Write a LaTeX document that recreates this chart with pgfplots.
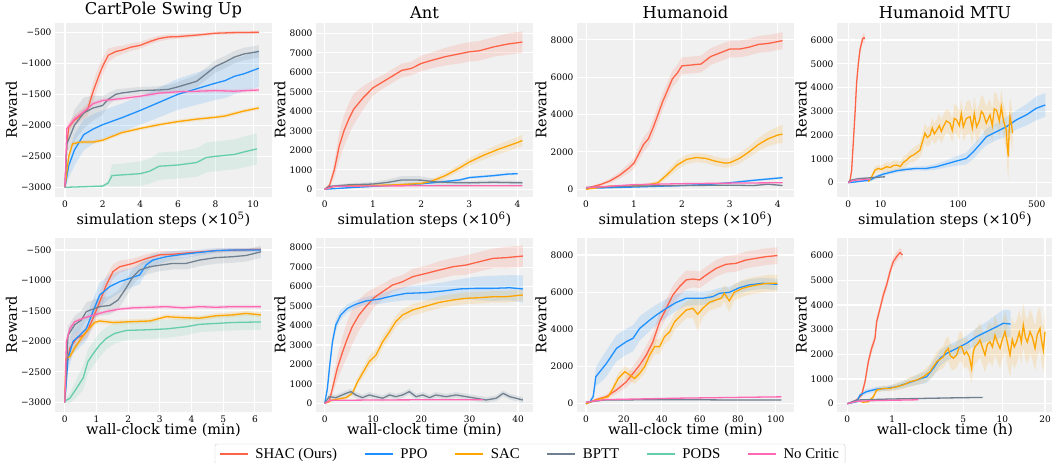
\documentclass[border=0pt]{standalone}
\usepackage{pgfplots}
\pgfplotsset{compat=1.18}
\usepackage{pgfplotstable}
\usepgfplotslibrary{fillbetween}
\usepackage{fontspec}
\setmainfont{DejaVu Serif}
\newfontfamily\legfont{Liberation Serif}

\definecolor{bg}{RGB}{240,240,240}
\definecolor{shac}{RGB}{255,99,71}
\definecolor{ppo}{RGB}{30,144,255}
\definecolor{sac}{RGB}{255,165,0}
\definecolor{bptt}{RGB}{112,128,144}
\definecolor{pods}{RGB}{102,205,170}
\definecolor{nocr}{RGB}{255,105,180}

% columns: x, mean m, half width of the shaded band e
% CartPole, simulation steps (x 1e5)
\pgfplotstableread[row sep=\\]{x m e\\ 0 -3000 0\\ 0.1 -2300 80\\ 0.2 -2030 70\\ 0.5 -1920 80\\ 1.0 -1800 90\\ 1.2 -1750 100\\ 1.5 -1450 150\\ 1.8 -1200 150\\ 2.0 -1050 140\\ 2.3 -870 110\\ 2.7 -810 80\\ 3.0 -790 70\\ 3.5 -740 60\\ 4.0 -710 55\\ 4.5 -650 50\\ 5.0 -600 45\\ 5.5 -575 40\\ 6.0 -570 35\\ 7.0 -545 30\\ 8.0 -515 25\\ 9.0 -505 25\\ 10.3 -500 25\\}\csShac
\pgfplotstableread[row sep=\\]{x m e\\ 0 -3000 0\\ 0.2 -2650 200\\ 0.5 -2400 250\\ 0.8 -2250 250\\ 1.0 -2150 250\\ 1.5 -2060 240\\ 2.0 -1990 230\\ 3.0 -1880 230\\ 4.0 -1760 230\\ 5.0 -1630 240\\ 6.0 -1500 250\\ 7.0 -1410 260\\ 8.0 -1320 270\\ 8.5 -1280 280\\ 9.0 -1210 290\\ 9.5 -1170 290\\ 10.3 -1080 300\\}\csPpo
\pgfplotstableread[row sep=\\]{x m e\\ 0 -3000 0\\ 0.2 -2500 60\\ 0.4 -2300 40\\ 0.8 -2270 30\\ 1.5 -2270 30\\ 2.0 -2240 30\\ 2.5 -2180 30\\ 3.0 -2120 30\\ 4.0 -2050 30\\ 5.0 -1990 30\\ 6.0 -1940 30\\ 7.0 -1900 30\\ 8.0 -1870 30\\ 8.5 -1850 30\\ 9.0 -1810 30\\ 9.5 -1770 30\\ 10.3 -1720 30\\}\csSac
\pgfplotstableread[row sep=\\]{x m e\\ 0 -3000 0\\ 0.1 -2300 120\\ 0.3 -2150 200\\ 0.5 -2000 250\\ 1.0 -1800 250\\ 1.5 -1720 200\\ 2.0 -1680 150\\ 2.3 -1580 100\\ 2.7 -1500 80\\ 3.0 -1480 70\\ 4.0 -1440 60\\ 5.0 -1430 60\\ 5.5 -1420 70\\ 6.0 -1380 80\\ 7.0 -1290 100\\ 7.5 -1170 100\\ 8.0 -1050 100\\ 8.5 -980 100\\ 9.0 -900 100\\ 9.5 -850 100\\ 10.3 -810 100\\}\csBptt
\pgfplotstableread[row sep=\\]{x m e\\ 0 -3000 0\\ 1.0 -2990 10\\ 2.0 -2980 20\\ 2.3 -2930 40\\ 2.5 -2810 180\\ 3.0 -2800 180\\ 4.0 -2780 200\\ 4.5 -2740 200\\ 5.0 -2660 220\\ 6.0 -2640 220\\ 7.0 -2600 230\\ 7.5 -2520 240\\ 8.0 -2500 240\\ 9.0 -2470 240\\ 9.5 -2430 250\\ 10.2 -2380 250\\}\csPods
\pgfplotstableread[row sep=\\]{x m e\\ 0 -3000 0\\ 0.1 -2050 60\\ 0.3 -1980 50\\ 0.5 -1900 50\\ 1.0 -1780 40\\ 1.5 -1650 40\\ 2.0 -1600 35\\ 3.0 -1570 30\\ 4.0 -1530 30\\ 5.0 -1480 30\\ 6.0 -1460 30\\ 7.0 -1450 30\\ 8.0 -1440 30\\ 9.0 -1450 30\\ 10.3 -1430 30\\}\csNocr

% Ant, simulation steps (x 1e6)
\pgfplotstableread[row sep=\\]{x m e\\ 0 0 0\\ 0.1 200 100\\ 0.2 1000 400\\ 0.3 2200 700\\ 0.4 3000 800\\ 0.5 3600 800\\ 0.6 4100 800\\ 0.8 4700 600\\ 1.0 5200 400\\ 1.2 5500 350\\ 1.4 5800 350\\ 1.6 6100 350\\ 1.8 6200 350\\ 2.0 6450 400\\ 2.2 6600 400\\ 2.5 6800 450\\ 2.8 6950 500\\ 3.0 7050 500\\ 3.2 7100 500\\ 3.5 7300 500\\ 3.8 7450 550\\ 4.1 7550 550\\}\asShac
\pgfplotstableread[row sep=\\]{x m e\\ 0 0 0\\ 0.5 80 30\\ 1.0 150 30\\ 1.5 220 40\\ 2.0 280 40\\ 2.5 400 50\\ 2.8 480 50\\ 3.0 600 60\\ 3.5 700 60\\ 3.8 780 60\\ 4.0 800 60\\}\asPpo
\pgfplotstableread[row sep=\\]{x m e\\ 0 0 0\\ 0.2 150 50\\ 0.5 180 50\\ 1.0 200 50\\ 1.5 230 60\\ 2.0 300 80\\ 2.2 400 100\\ 2.5 700 150\\ 2.8 1100 180\\ 3.0 1400 200\\ 3.3 1750 220\\ 3.6 2050 250\\ 4.0 2400 280\\ 4.1 2500 300\\}\asSac
\pgfplotstableread[row sep=\\]{x m e\\ 0 0 0\\ 0.1 150 50\\ 0.5 230 80\\ 1.0 270 100\\ 1.3 350 150\\ 1.6 480 200\\ 2.0 470 200\\ 2.3 380 150\\ 2.7 340 120\\ 3.0 330 100\\ 3.5 360 100\\ 4.1 330 100\\}\asBptt
\pgfplotstableread[row sep=\\]{x m e\\ 0 0 0\\ 0.2 150 20\\ 1.0 170 20\\ 2.0 180 20\\ 3.0 180 20\\ 4.1 180 20\\}\asNocr

% Humanoid, simulation steps (x 1e6)
\pgfplotstableread[row sep=\\]{x m e\\ 0 0 0\\ 0.1 120 50\\ 0.3 250 80\\ 0.5 450 120\\ 0.7 750 180\\ 0.9 1150 250\\ 1.0 1400 300\\ 1.1 1900 350\\ 1.2 2400 400\\ 1.3 2700 400\\ 1.4 3300 450\\ 1.5 4000 450\\ 1.6 4700 450\\ 1.7 5300 450\\ 1.8 5900 450\\ 1.9 6200 450\\ 2.0 6600 450\\ 2.2 6650 450\\ 2.4 6700 450\\ 2.6 7100 450\\ 2.8 7300 450\\ 3.0 7500 450\\ 3.2 7500 450\\ 3.4 7600 450\\ 3.6 7750 450\\ 3.8 7800 450\\ 4.1 7950 450\\}\hsShac
\pgfplotstableread[row sep=\\]{x m e\\ 0 50 20\\ 1.0 120 30\\ 2.0 200 40\\ 2.5 250 40\\ 3.0 350 50\\ 3.5 480 60\\ 4.1 620 60\\}\hsPpo
\pgfplotstableread[row sep=\\]{x m e\\ 0 0 0\\ 0.5 170 40\\ 1.0 170 50\\ 1.3 250 80\\ 1.5 350 100\\ 1.7 800 200\\ 1.9 1300 250\\ 2.1 1600 250\\ 2.3 1700 250\\ 2.5 1650 250\\ 2.7 1500 250\\ 2.9 1400 250\\ 3.0 1420 250\\ 3.2 1650 280\\ 3.4 2000 300\\ 3.6 2400 350\\ 3.8 2700 400\\ 4.0 2900 450\\ 4.1 2950 500\\}\hsSac
\pgfplotstableread[row sep=\\]{x m e\\ 0 100 30\\ 1.0 170 30\\ 2.0 200 40\\ 3.0 220 40\\ 3.5 200 40\\ 3.8 270 40\\ 4.1 200 40\\}\hsBptt
\pgfplotstableread[row sep=\\]{x m e\\ 0 80 20\\ 1.0 250 20\\ 2.0 300 20\\ 3.0 330 20\\ 4.1 350 20\\}\hsNocr

% Humanoid MTU, simulation steps: x is the position on the stretched axis
\pgfplotstableread[row sep=\\]{x m e\\ 0 0 0\\ 1.7 100 50\\ 3.3 500 100\\ 5 1700 150\\ 6.7 2900 200\\ 8.3 4200 200\\ 10 5000 200\\ 11.7 5600 200\\ 14.3 6050 200\\ 15.7 6100 200\\ 16.3 6050 200\\}\msShac
\pgfplotstableread[row sep=\\]{x m e\\ 0 0 0\\ 8.3 40 30\\ 21.7 110 60\\ 28 250 80\\ 35 360 80\\ 48 500 80\\ 58 560 80\\ 68 600 80\\ 78 600 100\\ 88 670 120\\ 98 790 150\\ 108 910 200\\ 118 1020 250\\ 125 1300 300\\ 132 1630 300\\ 138 1930 350\\ 148 2140 350\\ 158 2350 400\\ 168 2640 400\\ 178 2850 450\\ 188 3130 500\\ 197 3270 500\\}\msPpo
\pgfplotstableread[row sep=\\]{x m e\\ 20 40 30\\ 23.3 250 80\\ 26.7 530 150\\ 30 600 150\\ 33 560 150\\ 38.3 670 200\\ 42 640 200\\ 45 720 200\\ 48.3 740 200\\ 52 680 200\\ 55 850 250\\ 58.3 950 250\\ 62 1100 250\\ 65 1160 300\\ 68 1250 300\\ 71.7 1370 300\\ 74 1700 400\\ 76.7 2080 400\\ 79 1900 400\\ 81.7 2000 400\\ 84 2300 450\\ 86 2050 450\\ 88.3 2200 450\\ 91 2400 500\\ 93 2150 500\\ 95 2350 500\\ 98 2600 500\\ 101.7 2500 500\\ 104 2200 500\\ 106 2700 600\\ 108.3 2640 600\\ 111 2400 600\\ 113 2900 600\\ 115 2350 600\\ 118 2700 700\\ 121.7 2780 700\\ 124 2300 700\\ 126 2900 700\\ 128.3 2350 700\\ 131 2600 700\\ 133 3000 700\\ 135 2900 700\\ 138 2500 700\\ 141.7 2850 700\\ 144 2400 700\\ 146 3100 700\\ 148.3 3050 700\\ 151 2600 700\\ 153 3200 700\\ 155 2640 700\\ 158 2200 800\\ 159 1500 900\\ 160 1100 1000\\ 161 2400 900\\ 161.7 2780 800\\ 163 2500 800\\ 164.3 2080 800\\}\msSac
\pgfplotstableread[row sep=\\]{x m e\\ 0 0 0\\ 2 100 20\\ 10 170 30\\ 20 200 30\\ 36.7 250 30\\}\msBptt
\pgfplotstableread[row sep=\\]{x m e\\ 0 0 0\\ 5 100 20\\ 21.7 150 20\\}\msNocr

% CartPole, wall-clock time (min)
\pgfplotstableread[row sep=\\]{x m e\\ 0 -3000 0\\ 0.05 -2390 100\\ 0.16 -2110 100\\ 0.37 -1950 100\\ 0.58 -1900 100\\ 0.73 -1810 120\\ 0.89 -1620 150\\ 1.1 -1350 150\\ 1.31 -1075 150\\ 1.52 -855 120\\ 1.73 -775 100\\ 2.15 -720 80\\ 2.57 -640 70\\ 2.99 -580 60\\ 3.41 -570 50\\ 4.04 -540 40\\ 4.77 -510 30\\ 5.51 -500 30\\ 6.19 -490 30\\}\cwShac
\pgfplotstableread[row sep=\\]{x m e\\ 0 -3000 0\\ 0.1 -2280 200\\ 0.26 -2000 200\\ 0.47 -1900 200\\ 0.68 -1790 200\\ 0.89 -1510 200\\ 1.1 -1240 200\\ 1.42 -1100 200\\ 1.73 -1020 180\\ 2.05 -965 160\\ 2.36 -910 150\\ 2.57 -745 120\\ 2.78 -665 100\\ 3.2 -610 80\\ 3.73 -570 70\\ 4.25 -540 50\\ 4.77 -510 40\\ 5.3 -500 30\\ 6.19 -500 30\\}\cwPpo
\pgfplotstableread[row sep=\\]{x m e\\ 0 -3000 0\\ 0.03 -2280 60\\ 0.16 -2250 60\\ 0.31 -2110 60\\ 0.52 -1950 60\\ 0.73 -1810 50\\ 0.94 -1690 50\\ 1.1 -1665 40\\ 1.52 -1690 40\\ 2.15 -1675 40\\ 2.68 -1665 40\\ 3.2 -1595 40\\ 3.73 -1610 40\\ 4.25 -1620 40\\ 4.77 -1580 40\\ 5.3 -1565 40\\ 5.72 -1540 40\\ 6.19 -1565 40\\}\cwSac
\pgfplotstableread[row sep=\\]{x m e\\ 0 -3000 0\\ 0.1 -1900 150\\ 0.31 -1730 150\\ 0.52 -1650 150\\ 0.68 -1510 150\\ 0.84 -1480 150\\ 1.1 -1430 150\\ 1.42 -1410 150\\ 1.68 -1320 150\\ 1.89 -1160 150\\ 2.15 -940 130\\ 2.36 -830 120\\ 2.68 -775 110\\ 2.99 -750 100\\ 3.41 -720 100\\ 3.83 -720 100\\ 4.25 -665 100\\ 4.77 -625 100\\ 5.3 -610 100\\ 5.72 -590 100\\ 6.19 -530 100\\}\cwBptt
\pgfplotstableread[row sep=\\]{x m e\\ 0 -2980 30\\ 0.16 -2935 80\\ 0.37 -2770 150\\ 0.58 -2600 200\\ 0.73 -2330 200\\ 0.94 -2170 200\\ 1.1 -2060 200\\ 1.31 -1950 180\\ 1.57 -1870 170\\ 1.94 -1820 160\\ 2.57 -1810 150\\ 3.2 -1795 150\\ 3.83 -1760 140\\ 4.25 -1720 130\\ 5.3 -1690 130\\ 6.19 -1680 130\\}\cwPods
\pgfplotstableread[row sep=\\]{x m e\\ 0 -3000 0\\ 0.05 -2000 60\\ 0.16 -1790 50\\ 0.31 -1680 40\\ 0.58 -1620 30\\ 0.89 -1570 30\\ 1.31 -1510 30\\ 1.73 -1470 30\\ 2.15 -1450 30\\ 2.68 -1440 30\\ 3.2 -1430 30\\ 3.73 -1450 30\\ 4.25 -1430 30\\ 4.77 -1440 30\\ 5.3 -1430 30\\ 6.19 -1430 30\\}\cwNocr

% Ant, wall-clock time (min)
\pgfplotstableread[row sep=\\]{x m e\\ 0 0 0\\ 0.9 85 50\\ 1.6 770 300\\ 2.6 1800 600\\ 3.7 2650 800\\ 4.7 3340 900\\ 5.7 3940 900\\ 7.1 4540 800\\ 8.5 4970 700\\ 10.2 5430 500\\ 12 5740 400\\ 14 6080 350\\ 16.1 6250 350\\ 18.2 6510 400\\ 21 6680 400\\ 23.7 6850 450\\ 26.5 7020 450\\ 29.3 7110 500\\ 32 7280 500\\ 34.8 7450 500\\ 37.6 7490 550\\ 41 7570 550\\}\awShac
\pgfplotstableread[row sep=\\]{x m e\\ 0 0 0\\ 0.55 770 200\\ 1.04 1970 300\\ 1.6 3170 300\\ 2.3 4030 300\\ 3.3 4540 250\\ 4.7 4880 200\\ 6.4 5090 200\\ 8.5 5260 200\\ 11.3 5360 250\\ 14 5520 300\\ 16.8 5650 350\\ 21 5690 400\\ 24.4 5770 450\\ 27.9 5880 500\\ 31.3 5910 600\\ 34.8 5910 650\\ 38.3 5940 650\\ 41 5880 700\\}\awPpo
\pgfplotstableread[row sep=\\]{x m e\\ 0 0 0\\ 1.6 170 50\\ 4.4 290 80\\ 5.7 510 120\\ 6.8 1110 200\\ 7.8 1540 250\\ 9.2 2140 300\\ 10.6 2480 300\\ 12 3170 300\\ 13.4 3680 300\\ 14.7 4200 300\\ 16.1 4540 300\\ 18.2 4800 300\\ 21 5000 300\\ 23.7 5190 300\\ 26.5 5310 300\\ 29.3 5400 300\\ 32 5430 300\\ 34.8 5480 300\\ 37.6 5480 300\\ 41 5570 300\\}\awSac
\pgfplotstableread[row sep=\\]{x m e\\ 0 0 0\\ 0.9 340 150\\ 2.3 290 150\\ 4.4 510 150\\ 5.4 600 150\\ 6.4 430 150\\ 7.8 290 150\\ 9.2 430 150\\ 10.6 340 150\\ 12 260 150\\ 13.4 430 150\\ 14.7 340 150\\ 16.1 430 150\\ 17.5 600 150\\ 18.9 340 150\\ 20.3 430 150\\ 21.7 290 150\\ 23 430 150\\ 25.1 340 150\\ 27.2 430 150\\ 29.3 340 150\\ 31.3 260 150\\ 33.4 170 150\\ 35.5 260 150\\ 36.9 510 150\\ 38.3 340 150\\ 41 170 150\\}\awBptt
\pgfplotstableread[row sep=\\]{x m e\\ 0 0 0\\ 1 150 20\\ 10 170 20\\ 20 180 20\\ 32.7 180 20\\}\awNocr

% Humanoid, wall-clock time (min)
\pgfplotstableread[row sep=\\]{x m e\\ 0 0 0\\ 5.6 230 80\\ 10.8 380 120\\ 16.1 740 200\\ 21.3 1180 300\\ 24.8 1630 400\\ 28.3 2080 450\\ 31.8 2620 500\\ 35.3 3340 500\\ 38.8 4410 500\\ 42.3 5130 500\\ 45.8 5850 500\\ 49.3 6300 500\\ 52.8 6660 500\\ 56.3 6710 450\\ 59.8 6660 450\\ 63.3 6920 450\\ 68.5 7280 450\\ 73.8 7500 450\\ 79 7550 450\\ 84.3 7730 450\\ 89.5 7820 450\\ 94.8 7910 450\\ 100.9 7970 450\\}\hwShac
\pgfplotstableread[row sep=\\]{x m e\\ 0 0 0\\ 2.1 110 50\\ 3.8 380 150\\ 5.2 1450 500\\ 7.3 1720 600\\ 10.8 2170 700\\ 16.1 2980 700\\ 21.3 3340 700\\ 24.8 3520 700\\ 28.3 4050 650\\ 33.6 4500 600\\ 37.1 4770 550\\ 42.3 5130 500\\ 47.6 5450 450\\ 52.8 5670 400\\ 61.5 5670 350\\ 66.8 5760 350\\ 70.3 5940 300\\ 75.5 5990 300\\ 80.8 6240 300\\ 86 6390 300\\ 93 6480 300\\ 100.9 6420 300\\}\hwPpo
\pgfplotstableread[row sep=\\]{x m e\\ 0 0 0\\ 5.6 200 50\\ 11.7 380 80\\ 14.3 830 200\\ 17 1360 300\\ 20.5 1720 300\\ 23.1 1540 300\\ 25.7 1360 300\\ 28.3 1630 300\\ 30.9 1990 350\\ 33.6 2620 400\\ 36.2 3070 400\\ 38.8 3070 400\\ 41.4 3610 400\\ 44.1 3870 450\\ 46.7 4410 450\\ 50.2 4770 450\\ 52.8 5040 450\\ 56.3 5130 500\\ 58.9 4810 900\\ 61.5 5130 500\\ 65 5450 450\\ 68.5 5580 450\\ 71.2 5670 450\\ 72.9 5940 450\\ 75.5 5530 600\\ 78.1 5990 450\\ 82.5 6210 450\\ 87.8 6350 450\\ 93 6440 450\\ 96.5 6480 450\\ 100.9 6480 450\\}\hwSac
\pgfplotstableread[row sep=\\]{x m e\\ 0 80 20\\ 10 200 30\\ 50 220 40\\ 75 200 40\\ 103 200 40\\}\hwBptt
\pgfplotstableread[row sep=\\]{x m e\\ 0 80 20\\ 10 220 30\\ 50 300 30\\ 103 370 30\\}\hwNocr

% Humanoid MTU, wall-clock time: x is the position on the stretched axis
\pgfplotstableread[row sep=\\]{x m e\\ 0 0 0\\ 4.3 55 30\\ 9.3 150 50\\ 14.3 350 80\\ 17.7 890 150\\ 21 1700 200\\ 24.3 2240 200\\ 27.7 2650 200\\ 29.3 3320 200\\ 32.7 3860 200\\ 36 4400 200\\ 39.3 4810 200\\ 42.7 5350 200\\ 46 5760 200\\ 49.3 5960 200\\ 52.7 6130 200\\ 55 6030 200\\}\mwShac
\pgfplotstableread[row sep=\\]{x m e\\ 0 0 0\\ 9.3 80 40\\ 12.7 350 80\\ 19.3 490 100\\ 29.3 590 100\\ 39.3 620 100\\ 49.3 690 120\\ 59.3 820 150\\ 69.3 960 200\\ 79.3 1090 250\\ 86 1430 300\\ 92.7 1840 300\\ 99.3 2040 300\\ 109.3 2240 300\\ 119.3 2450 300\\ 129.3 2720 350\\ 139.3 2920 400\\ 149.3 3120 500\\ 156 3260 550\\ 163.3 3230 550\\}\mwPpo
\pgfplotstableread[row sep=\\]{x m e\\ 14.3 55 30\\ 21 80 40\\ 26 280 80\\ 29.3 550 100\\ 36 620 100\\ 42.7 620 120\\ 49.3 690 150\\ 56 760 150\\ 62.7 890 200\\ 69.3 960 200\\ 76 1090 250\\ 82.7 1300 300\\ 89.3 1700 400\\ 96 1900 450\\ 98 2100 500\\ 101 2240 500\\ 103 1950 500\\ 106 1840 500\\ 109.3 1970 500\\ 112 2300 600\\ 114.3 2310 600\\ 117 2000 600\\ 119.3 2110 600\\ 122 1900 600\\ 124.3 1430 600\\ 126 2100 700\\ 127.7 2310 700\\ 130 2400 700\\ 132.7 2580 700\\ 135 2300 700\\ 137.7 1970 700\\ 140 2400 800\\ 142.7 2510 800\\ 145 2300 800\\ 147.7 2780 800\\ 150 2500 800\\ 152.7 2240 800\\ 155 2600 800\\ 157.7 2920 800\\ 160 2500 900\\ 162.7 1970 900\\ 165 2600 900\\ 167 2300 900\\ 169.3 2510 900\\ 172 2900 900\\ 174 2500 900\\ 176 3190 900\\ 178 2700 900\\ 180 2500 900\\ 182.7 2920 900\\ 185 2700 900\\ 187.7 2240 900\\ 190 2800 900\\ 192.7 3050 900\\ 194 2600 900\\ 196 2170 900\\ 197.7 2920 900\\}\mwSac
\pgfplotstableread[row sep=\\]{x m e\\ 0 0 0\\ 9.3 150 20\\ 42.7 190 20\\ 76 215 20\\ 109.3 240 20\\ 135.3 255 20\\}\mwBptt
\pgfplotstableread[row sep=\\]{x m e\\ 0 0 0\\ 10 100 20\\ 30 130 20\\ 60 150 20\\ 71 160 20\\}\mwNocr

% band + mean line of one series
\newcommand{\series}[3]{%
  \addplot[draw=none, name path=#3h, forget plot] table[x=x, y expr=\thisrow{m}+\thisrow{e}] {#1};
  \addplot[draw=none, name path=#3l, forget plot] table[x=x, y expr=\thisrow{m}-\thisrow{e}] {#1};
  \addplot[fill=#2, fill opacity=0.15, draw=none, forget plot] fill between[of=#3h and #3l];
  \addplot[#2, line width=1.3pt] table[x=x, y=m] {#1};
}

\pgfplotsset{panel/.style={
  scale only axis, width=217pt, height=174pt, anchor=south west,
  axis background/.style={fill=bg},
  axis line style={draw=none}, major tick length=0pt,
  grid=major, grid style={white, line width=1.1pt},
  tick label style={font=\fontsize{9}{11}\selectfont},
  label style={font=\fontsize{14.5}{17}\selectfont},
  ylabel style={yshift=-3pt},
  title style={font=\fontsize{16.3}{19}\selectfont, yshift=-5pt},
  scaled ticks=false,
  /pgf/number format/1000 sep={},
  /pgf/number format/assume math mode=true,
  ylabel={Reward}, no markers,
}, toprow/.style={xlabel style={yshift=2pt}},
   botrow/.style={xlabel style={yshift=6pt}}}

\begin{document}
\begin{tikzpicture}

% ---- top row: simulation steps ----
\begin{axis}[panel, toprow, at={(55pt,266pt)}, title={CartPole Swing Up},
  xmin=-0.53, xmax=11.0, ymin=-3156, ymax=-350,
  xtick={0,2,4,6,8,10},
  ytick={-3000,-2500,-2000,-1500,-1000,-500},
  yticklabels={−3000,−2500,−2000,−1500,−1000,−500},
  xlabel={simulation steps (×10\textsuperscript{5})}]
\series{\csShac}{shac}{a}
\series{\csPpo}{ppo}{b}
\series{\csSac}{sac}{c}
\series{\csBptt}{bptt}{d}
\series{\csPods}{pods}{e}
\series{\csNocr}{nocr}{f}
\end{axis}

\begin{axis}[panel, toprow, at={(316pt,266pt)}, title={Ant},
  xmin=-0.18, xmax=4.32, ymin=-395, ymax=8528,
  xtick={0,1,2,3,4}, ytick={0,1000,...,8000},
  xlabel={simulation steps (×10\textsuperscript{6})}]
\series{\asShac}{shac}{a}
\series{\asPpo}{ppo}{b}
\series{\asSac}{sac}{c}
\series{\asBptt}{bptt}{d}
\series{\asNocr}{nocr}{f}
\end{axis}

\begin{axis}[panel, toprow, at={(577pt,266pt)}, title={Humanoid},
  xmin=-0.19, xmax=4.34, ymin=-413, ymax=8895,
  xtick={0,1,2,3,4}, ytick={0,2000,...,8000},
  xlabel={simulation steps (×10\textsuperscript{6})}]
\series{\hsShac}{shac}{a}
\series{\hsPpo}{ppo}{b}
\series{\hsSac}{sac}{c}
\series{\hsBptt}{bptt}{d}
\series{\hsNocr}{nocr}{f}
\end{axis}

\begin{axis}[panel, toprow, at={(837pt,266pt)}, width=216pt, title={Humanoid MTU},
  xmin=-11.3, xmax=204.7, ymin=-601, ymax=6716,
  xtick={0,32.4,110,188.4}, xticklabels={0,10,100,500},
  ytick={0,1000,...,6000},
  xlabel={simulation steps (×10\textsuperscript{6})}]
\series{\msShac}{shac}{a}
\series{\msPpo}{ppo}{b}
\series{\msSac}{sac}{c}
\series{\msBptt}{bptt}{d}
\series{\msNocr}{nocr}{f}
\end{axis}

% ---- bottom row: wall-clock time ----
\begin{axis}[panel, botrow, at={(55pt,51pt)},
  xmin=-0.31, xmax=6.54, ymin=-3159, ymax=-303,
  xtick={0,1,...,6},
  ytick={-3000,-2500,-2000,-1500,-1000,-500},
  yticklabels={−3000,−2500,−2000,−1500,−1000,−500},
  xlabel={wall-clock time (min)},
  legend columns=6,
  legend image code/.code={\draw[#1] (0pt,0pt) -- (28pt,0pt);},
  legend style={at={(2.189,-0.241)}, anchor=center, draw=black!20, fill=white,
    rounded corners=2pt, inner xsep=4pt, inner ysep=2pt,
    font=\legfont\fontsize{14.8}{16}\selectfont,
    /tikz/every odd column/.append style={column sep=5pt},
    /tikz/every even column/.append style={column sep=25pt}}]
\series{\cwShac}{shac}{a}
\series{\cwPpo}{ppo}{b}
\series{\cwSac}{sac}{c}
\series{\cwBptt}{bptt}{d}
\series{\cwPods}{pods}{e}
\series{\cwNocr}{nocr}{f}
\legend{SHAC (Ours), PPO, SAC, BPTT, PODS, No Critic}
\end{axis}

\begin{axis}[panel, botrow, at={(316pt,51pt)},
  xmin=-1.81, xmax=43.1, ymin=-447, ymax=8499,
  xtick={0,10,20,30,40}, ytick={0,1000,...,8000},
  xlabel={wall-clock time (min)}]
\series{\awShac}{shac}{a}
\series{\awPpo}{ppo}{b}
\series{\awSac}{sac}{c}
\series{\awBptt}{bptt}{d}
\series{\awNocr}{nocr}{f}
\end{axis}

\begin{axis}[panel, botrow, at={(577pt,51pt)},
  xmin=-4.72, xmax=109.6, ymin=-446, ymax=8915,
  xtick={0,20,...,100}, ytick={0,2000,...,8000},
  xlabel={wall-clock time (min)}]
\series{\hwShac}{shac}{a}
\series{\hwPpo}{ppo}{b}
\series{\hwSac}{sac}{c}
\series{\hwBptt}{bptt}{d}
\series{\hwNocr}{nocr}{f}
\end{axis}

\begin{axis}[panel, botrow, at={(837pt,51pt)}, width=216pt,
  xmin=-10.3, xmax=205.7, ymin=-336, ymax=6717,
  xtick={0,45,116,155,197.7}, xticklabels={0,1,5,10,20},
  ytick={0,1000,...,6000},
  xlabel={wall-clock time (h)}]
\series{\mwShac}{shac}{a}
\series{\mwPpo}{ppo}{b}
\series{\mwSac}{sac}{c}
\series{\mwBptt}{bptt}{d}
\series{\mwNocr}{nocr}{f}
\end{axis}

\pgfresetboundingbox
\useasboundingbox (0pt,0pt) rectangle (1052pt,463pt);
\end{tikzpicture}
\end{document}
